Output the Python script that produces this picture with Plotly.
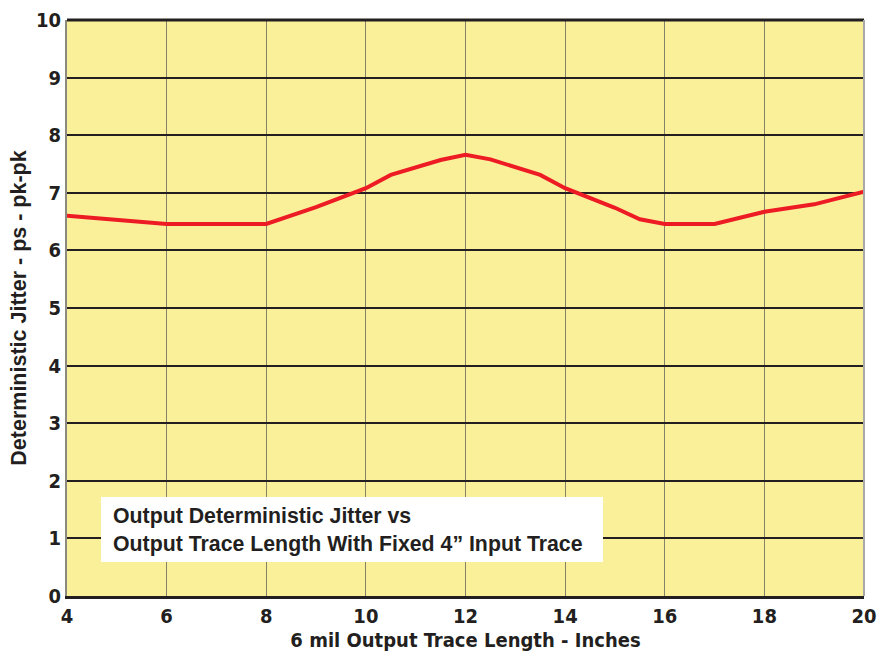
import plotly.graph_objects as go

trace_length = [4, 6, 8, 9, 10, 10.5, 11.5, 12, 12.5, 13.5, 14, 15, 15.5, 16, 17, 18, 19, 20]
jitter = [6.6, 6.46, 6.46, 6.75, 7.08, 7.31, 7.57, 7.66, 7.58, 7.31, 7.08, 6.74, 6.54, 6.46, 6.46, 6.67, 6.8, 7.02]
x_ticks = [4, 6, 8, 10, 12, 14, 16, 18, 20]
y_ticks = list(range(0, 11))

W, H = 881, 657
L, R, T, B = 67, 17, 20, 61
pw, ph = W - L - R, H - T - B

fig = go.Figure()
fig.add_trace(go.Scatter(x=trace_length, y=jitter, mode="lines",
                         line=dict(color="#ed1c24", width=4), showlegend=False,
                         hoverinfo="x+y"))

cond = "DejaVu Sans Condensed, Liberation Sans Narrow, Liberation Sans, Arial"
tickfont = dict(family=cond, size=20, color="#231f20", weight="bold")
fig.update_layout(
    width=W, height=H,
    margin=dict(l=L, r=R, t=T, b=B, autoexpand=False),
    paper_bgcolor="white", plot_bgcolor="#fbf09a",
    font=dict(family="Liberation Sans, Arial", color="#231f20"),
    xaxis=dict(range=[4, 20], tickvals=x_ticks, ticktext=[str(v) for v in x_ticks],
               showgrid=True, gridcolor="#85826a", gridwidth=1, zeroline=False,
               showline=True, linecolor="#231f20", linewidth=3, ticks="",
               tickfont=tickfont, automargin=False, ticklabeloverflow="allow",
               title=dict(text="6 mil Output Trace Length - Inches",
                          font=dict(family=cond, size=20, color="#231f20", weight="bold"),
                          standoff=6)),
    yaxis=dict(range=[0, 10], tickvals=y_ticks, ticktext=[str(v) for v in y_ticks],
               showgrid=True, gridcolor="#231f20", gridwidth=1.5, zeroline=False,
               showline=True, linecolor="#8a8a80", linewidth=2, ticks="",
               tickfont=tickfont, automargin=False,
               title=dict(text="Deterministic Jitter - ps - pk-pk",
                          font=dict(family="Liberation Sans, Arial", size=21.5, color="#231f20", weight="bold"),
                          standoff=3)),
)

# top border and right border
fig.add_shape(type="line", xref="paper", yref="paper", x0=0, x1=1, y0=1, y1=1,
              line=dict(color="#231f20", width=3))
fig.add_shape(type="line", xref="paper", yref="paper", x0=1, x1=1, y0=0, y1=1,
              line=dict(color="#a8a8a8", width=2))

# annotation box (page pixel positions converted to paper fractions)
def px(xp):
    return (xp - L) / pw

def py(yp):
    return (H - B - yp) / ph

fig.add_shape(type="rect", xref="paper", yref="paper", x0=px(101), x1=px(603), y0=py(562), y1=py(497),
              fillcolor="white", line=dict(width=0), layer="above")
fig.add_annotation(xref="paper", yref="paper", x=px(111), y=(py(562) + py(497)) / 2,
                   xanchor="left", yanchor="middle", align="left", showarrow=False,
                   text="Output Deterministic Jitter vs<br>Output Trace Length With Fixed 4\u201d Input Trace",
                   font=dict(family="Liberation Sans, Arial", size=21.3, color="#231f20", weight="bold"))

fig.write_html("out.html", config={"displayModeBar": False},
               post_script="document.body.style.margin='0';document.body.style.overflow='hidden';")
